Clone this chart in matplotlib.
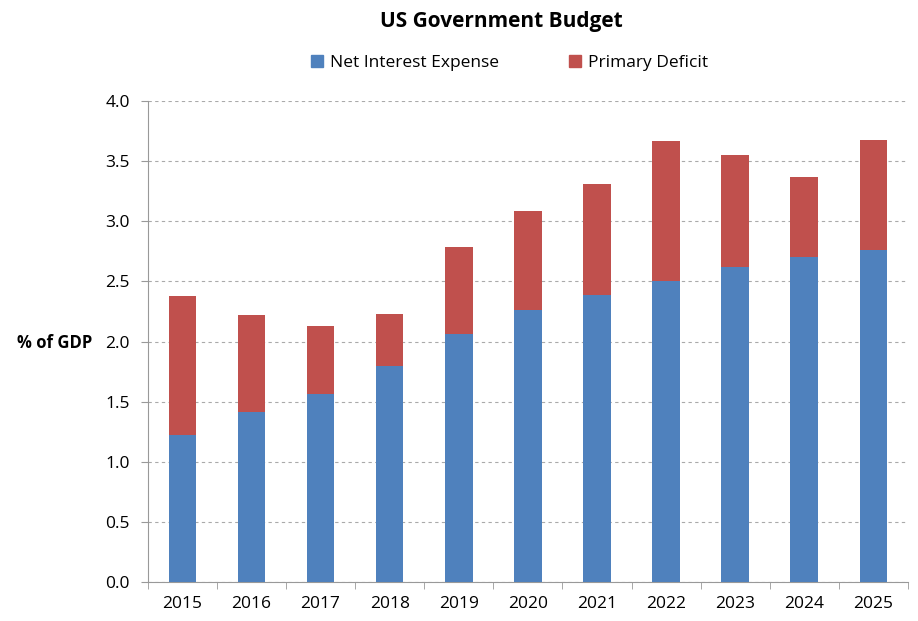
import matplotlib.pyplot as plt
import numpy as np
from matplotlib.patches import Patch

years = ['2015', '2016', '2017', '2018', '2019', '2020', '2021', '2022', '2023', '2024', '2025']
net_interest = [1.22, 1.41, 1.56, 1.80, 2.06, 2.26, 2.39, 2.50, 2.62, 2.70, 2.76]
total = [2.38, 2.22, 2.13, 2.23, 2.79, 3.09, 3.31, 3.67, 3.55, 3.37, 3.68]
primary_deficit = [t - n for t, n in zip(total, net_interest)]

blue = '#4F81BD'
red = '#C0504D'

plt.rcParams['font.family'] = ['Open Sans', 'DejaVu Sans']

fig = plt.figure(figsize=(9.18, 6.21), dpi=100)
ax = fig.add_axes([0.161, 0.063, 0.828, 0.774])

x = np.arange(len(years))
ax.bar(x, net_interest, width=0.4, color=blue, zorder=3)
ax.bar(x, primary_deficit, width=0.4, bottom=net_interest, color=red, zorder=3)

ax.set_xlim(-0.5, len(years) - 0.5)
ax.set_ylim(0, 4.0)
ax.set_yticks(np.arange(0, 4.01, 0.5))
ax.set_yticklabels([f'{v:.1f}' for v in np.arange(0, 4.01, 0.5)], fontsize=12.5)
ax.set_xticks(x)
ax.set_xticklabels(years, fontsize=12.5)
ax.tick_params(axis='x', length=0, pad=10)
ax.set_xticks(np.arange(-0.5, len(years)), minor=True)
ax.tick_params(axis='x', which='minor', length=5, color='#999999')
ax.tick_params(axis='y', length=5, color='#999999', pad=8)

ax.yaxis.grid(True, linestyle=(0, (3, 3)), color='#aaaaaa', linewidth=0.8, zorder=0)
for s in ['top', 'right']:
    ax.spines[s].set_visible(False)
for s in ['left', 'bottom']:
    ax.spines[s].set_color('#999999')

fig.text(0.06, 0.448, '% of GDP', fontsize=12, fontweight='bold', ha='center', va='center')
fig.text(0.546, 0.965, 'US Government Budget', fontsize=15, fontweight='bold', ha='center', va='center')

handles = [Patch(color=blue, label='Net Interest Expense'), Patch(color=red, label='Primary Deficit')]
fig.legend(handles=handles, loc='center', bbox_to_anchor=(0.555, 0.898), ncol=2, frameon=False,
           fontsize=12.5, handlelength=0.7, handleheight=0.7, columnspacing=4.0, handletextpad=0.4)

fig.savefig('out.png', dpi=100)
